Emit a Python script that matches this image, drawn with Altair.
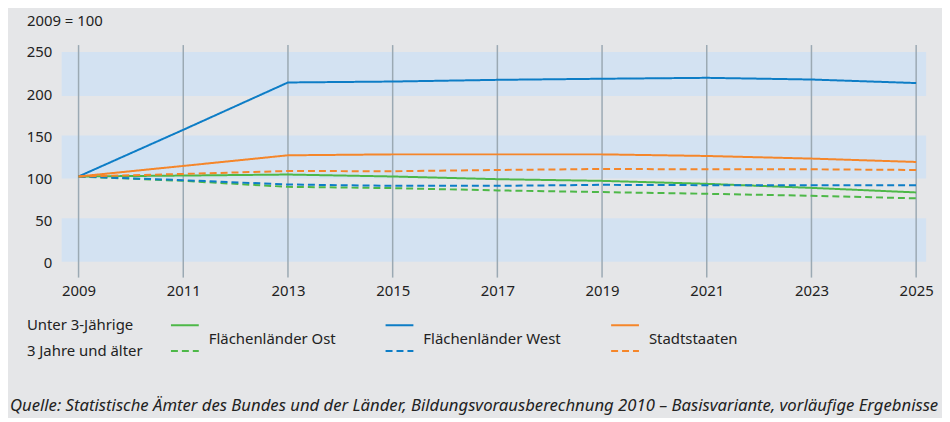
import altair as alt
import pandas as pd

# ---- data ----
years = [2009, 2011, 2013, 2015, 2017, 2019, 2021, 2023, 2025]
regions = ["Flächenländer Ost", "Flächenländer West", "Stadtstaaten"]
groups = ["Unter 3-Jährige", "3 Jahre und älter"]
region_colors = ["#4db848", "#0d7dc6", "#f5862a"]

ost_u3 = [102.5, 103.6, 104.8, 102.5, 99.3, 97.3, 93.8, 89.0, 83.6]
ost_3p = [102.5, 97.3, 90.2, 88.7, 86.0, 84.0, 82.0, 79.6, 76.6]
west_u3 = [102.5, 157.8, 213.9, 215.0, 217.0, 218.3, 219.4, 217.4, 213.2]
west_3p = [102.5, 98.1, 93.0, 91.4, 91.4, 92.6, 92.2, 92.2, 92.2]
stadt_u3 = [102.5, 115.0, 127.6, 128.7, 128.7, 128.7, 126.8, 123.7, 119.7]
stadt_3p = [102.5, 105.5, 109.0, 108.7, 110.2, 111.4, 111.0, 111.0, 110.2]

y_ticks = [0, 50, 100, 150, 200, 250]
band_lo = [1.5, 100, 198]
band_hi = [53, 151, 250]

unit_label = "2009 = 100"
source = ("Quelle: Statistische Ämter des Bundes und der Länder, Bildungsvorausberechnung 2010 – "
          "Basisvariante, vorläufige Ergebnisse")

series = {
    ("Flächenländer Ost", "Unter 3-Jährige"): ost_u3,
    ("Flächenländer Ost", "3 Jahre und älter"): ost_3p,
    ("Flächenländer West", "Unter 3-Jährige"): west_u3,
    ("Flächenländer West", "3 Jahre und älter"): west_3p,
    ("Stadtstaaten", "Unter 3-Jährige"): stadt_u3,
    ("Stadtstaaten", "3 Jahre und älter"): stadt_3p,
}
rows = []
for (reg, grp), vals in series.items():
    for yr, v in zip(years, vals):
        rows.append({"year": yr, "region": reg, "group": grp, "value": v})
df = pd.DataFrame(rows)

FONT = "Noto Sans"
TXT = "#222222"
FS = 15
W, H = 870, 234

xscale = alt.Scale(domain=[2008.677, 2025.19], nice=False, zero=False)
yscale = alt.Scale(domain=[-17.3, 258.2], nice=False, zero=False)

bands = alt.Chart(pd.DataFrame({"lo": band_lo, "hi": band_hi})).mark_rect(
    color="#d3e2f2"
).encode(
    x=alt.value(0), x2=alt.value(W),
    y=alt.Y("lo:Q", scale=yscale, axis=alt.Axis(values=y_ticks, title=None, domain=False,
                                                 ticks=False, grid=False, labelPadding=10,
                                                 labelFontSize=FS, labelFont=FONT, labelColor=TXT)),
    y2="hi:Q",
)

vlines = alt.Chart(pd.DataFrame({"year": years})).mark_rule(
    color="#9ba9b3", strokeWidth=1.5
).encode(
    x=alt.X("year:Q", scale=xscale, axis=alt.Axis(values=years, format="d", title=None,
                                                   domain=False, ticks=False, grid=False,
                                                   labelPadding=6, labelFontSize=FS,
                                                   labelFont=FONT, labelColor=TXT)),
    y=alt.value(0), y2=alt.value(H),
)

lines = alt.Chart(df).mark_line(strokeWidth=2).encode(
    x=alt.X("year:Q", scale=xscale),
    y=alt.Y("value:Q", scale=yscale),
    color=alt.Color("region:N", scale=alt.Scale(domain=regions, range=region_colors), legend=None),
    strokeDash=alt.StrokeDash("group:N", scale=alt.Scale(domain=groups, range=[[1, 0], [7, 4]]),
                              legend=None),
)

one = pd.DataFrame({"a": [0]})


def text(t, x, y, italic=False, size=FS):
    return alt.Chart(one).mark_text(
        text=t, align="left", baseline="middle", font=FONT, fontSize=size, color=TXT,
        fontStyle="italic" if italic else "normal"
    ).encode(x=alt.value(x), y=alt.value(y))


def seg(x1, x2, y, color, dash):
    return alt.Chart(one).mark_rule(color=color, strokeWidth=2, strokeDash=dash).encode(
        x=alt.value(x1), x2=alt.value(x2), y=alt.value(y))


extras = [text(unit_label, -35, -24),
          text(groups[0], -35, 282), text(groups[1], -35, 308),
          text(source, -52, 363, italic=True, size=16.8)]
leg_x = [110, 326, 553]
for reg, col, lx in zip(regions, region_colors, leg_x):
    extras.append(seg(lx, lx + 28, 282, col, [1, 0]))
    extras.append(seg(lx, lx + 28, 308, col, [7, 4]))
    extras.append(text(reg, lx + 38, 296))

chart = alt.layer(bands, vlines, lines, *extras).properties(
    width=W, height=H,
    autosize=alt.AutoSizeParams(type="none"),
    padding={"left": 54, "top": 36, "right": 16, "bottom": 140},
    background="#e5e6e8",
).configure_view(stroke=None)

chart.save("out.html", embed_options={"renderer": "svg", "actions": False})
